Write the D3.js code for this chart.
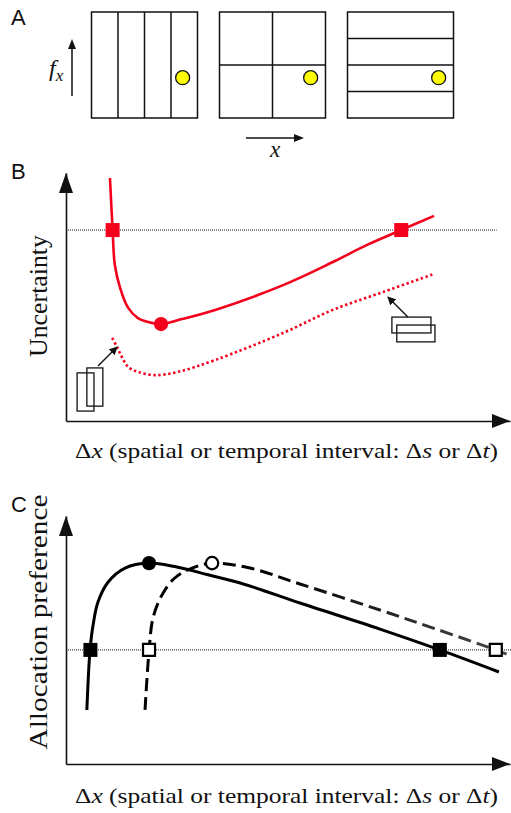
<!DOCTYPE html>
<html>
<head>
<meta charset="utf-8">
<script src="https://cdn.jsdelivr.net/npm/d3@7"></script>
<style>
  body { margin: 0; padding: 0; background: #fff; }
  svg { display: block; }
  .serif { font-family: "Liberation Serif", "Times New Roman", serif; fill: #111; }
  .panel-label { font-family: "Liberation Sans", Arial, sans-serif; font-size: 22px; fill: #111; }
  .axis path { stroke: #111; stroke-width: 1.6; }
</style>
</head>
<body>
<svg id="fig" width="511" height="813"></svg>
<script>

// ---- panel A: how the time-frequency plane is tiled
var tilings = ["time", "mixed", "frequency"];
var tilingCols = [4, 2, 1];
var tilingRows = [1, 2, 4];
var eventPos = [0.86, 0.62];   // where the yellow event sits inside each box

// ---- panel B: uncertainty vs interval
var uncX = [9.9, 10.5, 11.0, 12.2, 14.0, 16.2, 18.5, 21.4, 26.1, 33.6, 48.9, 60.1, 67.8, 75.5, 82.9];
var uncY = [98.0, 77.0, 62.9, 53.6, 45.6, 41.5, 39.9, 39.1, 41.1, 44.8, 54.8, 64.1, 71.0, 77.0, 82.7];
var overlapX = [10.4, 11.5, 12.6, 14.0, 16.2, 20.0, 25.2, 33.6, 48.9, 60.1, 71.4, 82.9];
var overlapY = [33.5, 29.8, 25.8, 21.8, 19.8, 18.5, 19.8, 24.6, 35.5, 44.8, 52.0, 59.3];
var thresholdB = 77.0;
var thresholdSpanB = [0, 97];
var limitsB = [10.5, 75.5];
var optimumB = [21.4, 39.1];
// little overlapping windows + the arrow pointing at the dotted curve
var windowsSmall = [[2.5, 4.0, 6.3, 19.4], [4.7, 6.0, 8.3, 21.4]];
var windowsWide = [[73.4, 35.5, 82.2, 41.9], [74.5, 31.9, 83.1, 38.7]];
var pointerSmall = [[7.2, 22.2], [11.5, 29.8]];
var pointerWide = [[77.0, 41.9], [72.5, 50.0]];

// ---- panel C: allocation preference vs interval
var prefX = [4.7, 5.4, 6.1, 7.2, 9.5, 13.3, 18.7, 24.5, 32.0, 40.3, 52.7, 70.7, 84.2, 97.5];
var prefY = [21.8, 45.6, 56.0, 65.3, 73.4, 79.0, 81.0, 79.6, 76.3, 72.4, 64.9, 54.4, 46.0, 37.1];
var prefDashX = [17.8, 18.7, 19.6, 21.6, 24.5, 28.4, 32.9, 41.4, 52.7, 70.7, 82.7, 96.8, 102];
var prefDashY = [21.8, 45.6, 58.9, 68.1, 75.0, 79.0, 81.0, 79.0, 72.6, 62.1, 54.8, 46.0, 42.3];
var thresholdC = 46.0;
var thresholdSpanC = [0, 101];
var limitsC = [5.5, 84.2];
var limitsDashC = [18.7, 96.8];
var peakC = [18.7, 81.0];
var peakDashC = [32.9, 81.0];

var RED = "#f4001c";

var svg = d3.select("#fig");

var defs = svg.append("defs");
defs.append("marker")
    .attr("id", "head")
    .attr("viewBox", "0 0 10 10")
    .attr("refX", 9).attr("refY", 5)
    .attr("markerWidth", 6).attr("markerHeight", 6)
    .attr("markerUnits", "strokeWidth")
    .attr("orient", "auto")
  .append("path")
    .attr("d", "M0,0L10,5L0,10z")
    .attr("fill", "#111");

var grad = defs.append("linearGradient")
    .attr("id", "dashfade")
    .attr("gradientUnits", "userSpaceOnUse")
    .attr("x1", 140).attr("x2", 511).attr("y1", 0).attr("y2", 0);
grad.append("stop").attr("offset", "0.35").attr("stop-color", "#000");
grad.append("stop").attr("offset", "1").attr("stop-color", "#4a4a4a");

function pts(xs, ys) {
  return xs.map(function(d, i) { return [d, ys[i]]; });
}

// stretch a text horizontally so it spans w pixels
function fit(sel, w, base) {
  var len = sel.node().getComputedTextLength();
  sel.attr("transform", base + " scale(" + (w / len) + ",1)");
}

// triangle arrow head, tip at (x,y), pointing "up" or "right"
function head(x, y, dir, len, half) {
  var p = dir === "up"
    ? [[x, y], [x - half, y + len], [x + half, y + len]]
    : [[x, y], [x - len, y - half], [x - len, y + half]];
  svg.append("path")
      .attr("d", "M" + p.join("L") + "Z")
      .attr("fill", "#111");
}

// ---------------- panel A ----------------
svg.append("text").attr("class", "panel-label").attr("x", 11).attr("y", 25).text("A");

var boxBand = d3.scaleBand().domain(tilings).range([91.5, 453.5]).paddingInner(0.172);
var boxSize = boxBand.bandwidth();
var boxTop = 12;

tilings.forEach(function(t, i) {
  var u = d3.scaleLinear().domain([0, 1]).range([0, boxSize]);
  var g = svg.append("g").attr("transform", "translate(" + boxBand(t) + "," + boxTop + ")");
  g.append("rect")
      .attr("width", boxSize).attr("height", boxSize)
      .attr("fill", "none").attr("stroke", "#111").attr("stroke-width", 1.5);
  g.selectAll(".col").data(d3.range(1, tilingCols[i])).enter().append("line")
      .attr("x1", function(c) { return u(c / tilingCols[i]); })
      .attr("x2", function(c) { return u(c / tilingCols[i]); })
      .attr("y1", 0).attr("y2", boxSize)
      .attr("stroke", "#111").attr("stroke-width", 1.5);
  g.selectAll(".row").data(d3.range(1, tilingRows[i])).enter().append("line")
      .attr("y1", function(r) { return u(r / tilingRows[i]); })
      .attr("y2", function(r) { return u(r / tilingRows[i]); })
      .attr("x1", 0).attr("x2", boxSize)
      .attr("stroke", "#111").attr("stroke-width", 1.5);
  g.append("circle")
      .attr("cx", u(eventPos[0])).attr("cy", u(eventPos[1])).attr("r", 7)
      .attr("fill", "#ffff00").attr("stroke", "#111").attr("stroke-width", 1.3);
});

// f_x arrow
svg.append("line").attr("x1", 72).attr("x2", 72).attr("y1", 96).attr("y2", 48)
    .attr("stroke", "#111").attr("stroke-width", 1.5);
head(72, 39, "up", 10, 4);
var fx = svg.append("text").attr("class", "serif").attr("x", 49).attr("y", 76)
    .style("font-size", "24px").style("font-style", "italic");
fx.append("tspan").text("f");
fx.append("tspan").attr("dy", 5).style("font-size", "17px").text("x");

// x arrow
svg.append("line").attr("x1", 246).attr("x2", 295).attr("y1", 138).attr("y2", 138)
    .attr("stroke", "#111").attr("stroke-width", 1.5);
head(304, 138, "right", 10, 4);
svg.append("text").attr("class", "serif").attr("x", 275).attr("y", 157)
    .attr("text-anchor", "middle")
    .style("font-size", "23px").style("font-style", "italic").text("x");

// ---------------- shared x scale ----------------
var x = d3.scaleLinear().domain([0, 100]).range([66, 510]);

function intervalLabel(baseY) {
  var t = svg.append("text").attr("class", "serif").attr("x", 0).attr("y", 0)
      .style("font-size", "21px");
  t.append("tspan").text("\u0394");
  t.append("tspan").style("font-style", "italic").text("x");
  t.append("tspan").text(" (spatial or temporal interval: \u0394");
  t.append("tspan").style("font-style", "italic").text("s");
  t.append("tspan").text(" or \u0394");
  t.append("tspan").style("font-style", "italic").text("t");
  t.append("tspan").text(")");
  fit(t, 423, "translate(75," + baseY + ")");
}

function axes(y) {
  svg.append("g").attr("class", "axis")
      .attr("transform", "translate(0," + y.range()[0] + ")")
      .call(d3.axisBottom(x).tickValues([]).tickSizeOuter(0));
  svg.append("g").attr("class", "axis")
      .attr("transform", "translate(" + x.range()[0] + ",0)")
      .call(d3.axisLeft(y).tickValues([]).tickSizeOuter(0));
  head(x.range()[0], y.range()[1], "up", 20, 7);
  head(x.range()[1], y.range()[0], "right", 18, 7);
}

function yLabel(txt, cy, w) {
  var t = svg.append("text").attr("class", "serif")
      .attr("text-anchor", "middle").attr("x", 0).attr("y", 0)
      .style("font-size", "26px").text(txt);
  fit(t, w, "translate(47," + cy + ") rotate(-90)");
}

// ---------------- panel B ----------------
svg.append("text").attr("class", "panel-label").attr("x", 11).attr("y", 179).text("B");

var yB = d3.scaleLinear().domain([0, 100]).range([421, 173]);
var lineB = d3.line().x(function(d) { return x(d[0]); }).y(function(d) { return yB(d[1]); })
    .curve(d3.curveCatmullRom.alpha(0.5));

axes(yB);

svg.append("line")
    .attr("x1", x(thresholdSpanB[0])).attr("x2", x(thresholdSpanB[1]))
    .attr("y1", yB(thresholdB)).attr("y2", yB(thresholdB))
    .attr("stroke", "#111").attr("stroke-width", 1).attr("stroke-dasharray", "1,1");

svg.append("path").datum(pts(overlapX, overlapY))
    .attr("d", lineB).attr("fill", "none")
    .attr("stroke", RED).attr("stroke-width", 2.6).attr("stroke-dasharray", "2.4,2.6");

svg.append("path").datum(pts(uncX, uncY))
    .attr("d", lineB).attr("fill", "none")
    .attr("stroke", RED).attr("stroke-width", 2.6);

svg.selectAll(".limB").data(limitsB).enter().append("path")
    .attr("transform", function(d) { return "translate(" + x(d) + "," + yB(thresholdB) + ")"; })
    .attr("d", d3.symbol(d3.symbolSquare, 196))
    .attr("fill", RED);

svg.append("path")
    .attr("transform", "translate(" + x(optimumB[0]) + "," + yB(optimumB[1]) + ")")
    .attr("d", d3.symbol(d3.symbolCircle, 160))
    .attr("fill", RED);

svg.selectAll(".win").data(windowsSmall.concat(windowsWide)).enter().append("rect")
    .attr("x", function(d) { return x(d[0]); })
    .attr("y", function(d) { return yB(d[3]); })
    .attr("width", function(d) { return x(d[2]) - x(d[0]); })
    .attr("height", function(d) { return yB(d[1]) - yB(d[3]); })
    .attr("fill", "none").attr("stroke", "#111").attr("stroke-width", 1.3);

[pointerSmall, pointerWide].forEach(function(p) {
  svg.append("line")
      .attr("x1", x(p[0][0])).attr("y1", yB(p[0][1]))
      .attr("x2", x(p[1][0])).attr("y2", yB(p[1][1]))
      .attr("stroke", "#111").attr("stroke-width", 1.4)
      .attr("marker-end", "url(#head)");
});

yLabel("Uncertainty", 296, 122);
intervalLabel(458);

// ---------------- panel C ----------------
svg.append("text").attr("class", "panel-label").attr("x", 11).attr("y", 512).text("C");

var yC = d3.scaleLinear().domain([0, 100]).range([764, 516]);
var lineC = d3.line().x(function(d) { return x(d[0]); }).y(function(d) { return yC(d[1]); })
    .curve(d3.curveCatmullRom.alpha(0.5));

axes(yC);

svg.append("line")
    .attr("x1", x(thresholdSpanC[0])).attr("x2", x(thresholdSpanC[1]))
    .attr("y1", yC(thresholdC)).attr("y2", yC(thresholdC))
    .attr("stroke", "#111").attr("stroke-width", 1).attr("stroke-dasharray", "1,1");

svg.append("path").datum(pts(prefDashX, prefDashY))
    .attr("d", lineC).attr("fill", "none")
    .attr("stroke", "url(#dashfade)").attr("stroke-width", 3).attr("stroke-dasharray", "13,6");

svg.append("path").datum(pts(prefX, prefY))
    .attr("d", lineC).attr("fill", "none")
    .attr("stroke", "#000").attr("stroke-width", 3);

svg.selectAll(".limC").data(limitsC).enter().append("path")
    .attr("transform", function(d) { return "translate(" + x(d) + "," + yC(thresholdC) + ")"; })
    .attr("d", d3.symbol(d3.symbolSquare, 196))
    .attr("fill", "#000");

svg.selectAll(".limDashC").data(limitsDashC).enter().append("path")
    .attr("transform", function(d) { return "translate(" + x(d) + "," + yC(thresholdC) + ")"; })
    .attr("d", d3.symbol(d3.symbolSquare, 144))
    .attr("fill", "#fff").attr("stroke", "#000").attr("stroke-width", 2.2);

svg.append("path")
    .attr("transform", "translate(" + x(peakC[0]) + "," + yC(peakC[1]) + ")")
    .attr("d", d3.symbol(d3.symbolCircle, 160))
    .attr("fill", "#000");

svg.append("path")
    .attr("transform", "translate(" + x(peakDashC[0]) + "," + yC(peakDashC[1]) + ")")
    .attr("d", d3.symbol(d3.symbolCircle, 120))
    .attr("fill", "#fff").attr("stroke", "#000").attr("stroke-width", 2.2);

yLabel("Allocation preference", 622, 255);
intervalLabel(803);

</script>
</body>
</html>
